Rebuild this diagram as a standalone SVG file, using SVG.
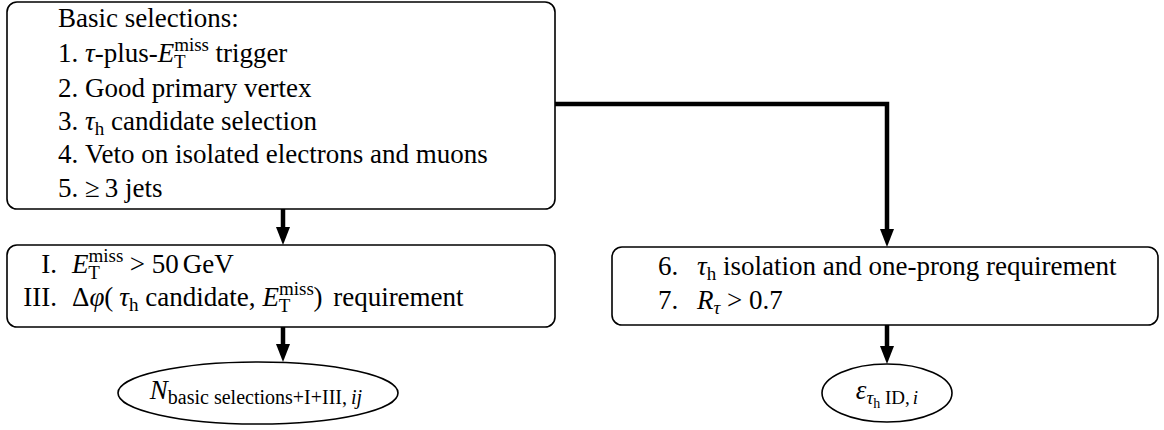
<svg xmlns="http://www.w3.org/2000/svg" width="1164" height="430" viewBox="0 0 1164 430">
<style>
.box{fill:#fff;stroke:#000;stroke-width:1.6}
.t{font-family:"Liberation Serif","DejaVu Serif","Times New Roman",Times,serif;font-size:27px;fill:#000}
.i{font-style:italic}
.s{font-size:19px}
.s2{font-size:20px}
.ss{font-size:14px}
.conn{stroke:#000;stroke-width:4.5;fill:none}
</style>
<defs>
<marker id="ah" viewBox="0 0 18 14" refX="6" refY="7" markerWidth="18" markerHeight="14" markerUnits="userSpaceOnUse" orient="auto">
<path d="M0,0 L18,7 L0,14 z" fill="#000"/>
</marker>
</defs>
<g id="connectors">
<line class="conn" x1="283" y1="209" x2="283" y2="233" marker-end="url(#ah)"/>
<path class="conn" d="M555,104 H887 V235" marker-end="url(#ah)"/>
<line class="conn" x1="283" y1="327" x2="283" y2="350" marker-end="url(#ah)"/>
<line class="conn" x1="887" y1="325" x2="887" y2="352" marker-end="url(#ah)"/>
</g>
<g id="basic">
<rect class="box" x="7" y="2" width="548" height="207" rx="10"/>
<text class="t" x="58" y="27">Basic selections:</text>
<text class="t" x="58" y="62">1.<tspan x="85" class="i">τ</tspan>-plus-<tspan class="i">E</tspan><tspan class="s" dy="-11">miss</tspan><tspan class="s" dx="-35" dy="17">T</tspan><tspan dx="23" dy="-6"> trigger</tspan></text>
<text class="t" x="58" y="97">2.<tspan x="85">Good primary vertex</tspan></text>
<text class="t" x="58" y="130">3.<tspan x="85" class="i">τ</tspan><tspan class="s" dy="5">h</tspan><tspan dy="-5"> candidate selection</tspan></text>
<text class="t" x="58" y="163">4.<tspan x="85">Veto on isolated electrons and muons</tspan></text>
<text class="t" x="58" y="197">5.<tspan x="85">≥</tspan><tspan dx="5">3 jets</tspan></text>
</g>
<g id="cuts">
<rect class="box" x="7" y="245" width="548" height="82" rx="10"/>
<text class="t" x="57" y="273" text-anchor="end">I.</text>
<text class="t" x="72" y="273"><tspan class="i">E</tspan><tspan class="s" dy="-11">miss</tspan><tspan class="s" dx="-35" dy="17">T</tspan><tspan dx="23" dy="-6"> &gt; 50</tspan><tspan dx="4">GeV</tspan></text>
<text class="t" x="57" y="306" text-anchor="end">III.</text>
<text class="t" x="72" y="306">Δ<tspan class="i">φ</tspan>(<tspan dx="6" class="i">τ</tspan><tspan class="s" dy="5">h</tspan><tspan dy="-5"> candidate,</tspan><tspan dx="7" class="i">E</tspan><tspan class="s" dy="-11">miss</tspan><tspan class="s" dx="-35" dy="17">T</tspan><tspan dx="23" dy="-6">)</tspan><tspan dx="4"> requirement</tspan></text>
</g>
<g id="tauid">
<rect class="box" x="612" y="247" width="546" height="78" rx="10"/>
<text class="t" x="658" y="275">6.<tspan x="697" class="i">τ</tspan><tspan class="s" dy="5">h</tspan><tspan dy="-5"> isolation and one-prong requirement</tspan></text>
<text class="t" x="658" y="309">7.<tspan x="697" class="i">R</tspan><tspan class="s i" dy="5">τ</tspan><tspan dy="-5"> &gt; 0.7</tspan></text>
</g>
<g id="nsel">
<ellipse class="box" cx="258" cy="393" rx="140" ry="31"/>
<text class="t" x="256" y="399" text-anchor="middle"><tspan class="i">N</tspan><tspan class="s2" dy="5">basic selections+I+III,</tspan><tspan class="s2 i" dx="4">ij</tspan></text>
</g>
<g id="eff">
<ellipse class="box" cx="887" cy="393" rx="65" ry="29"/>
<text class="t" x="887" y="399" text-anchor="middle"><tspan class="i">ε</tspan><tspan class="s i" dy="5">τ</tspan><tspan class="ss" dy="4">h</tspan><tspan class="s" dy="-4"> ID,</tspan><tspan class="s i" dx="3">i</tspan></text>
</g>
</svg>
